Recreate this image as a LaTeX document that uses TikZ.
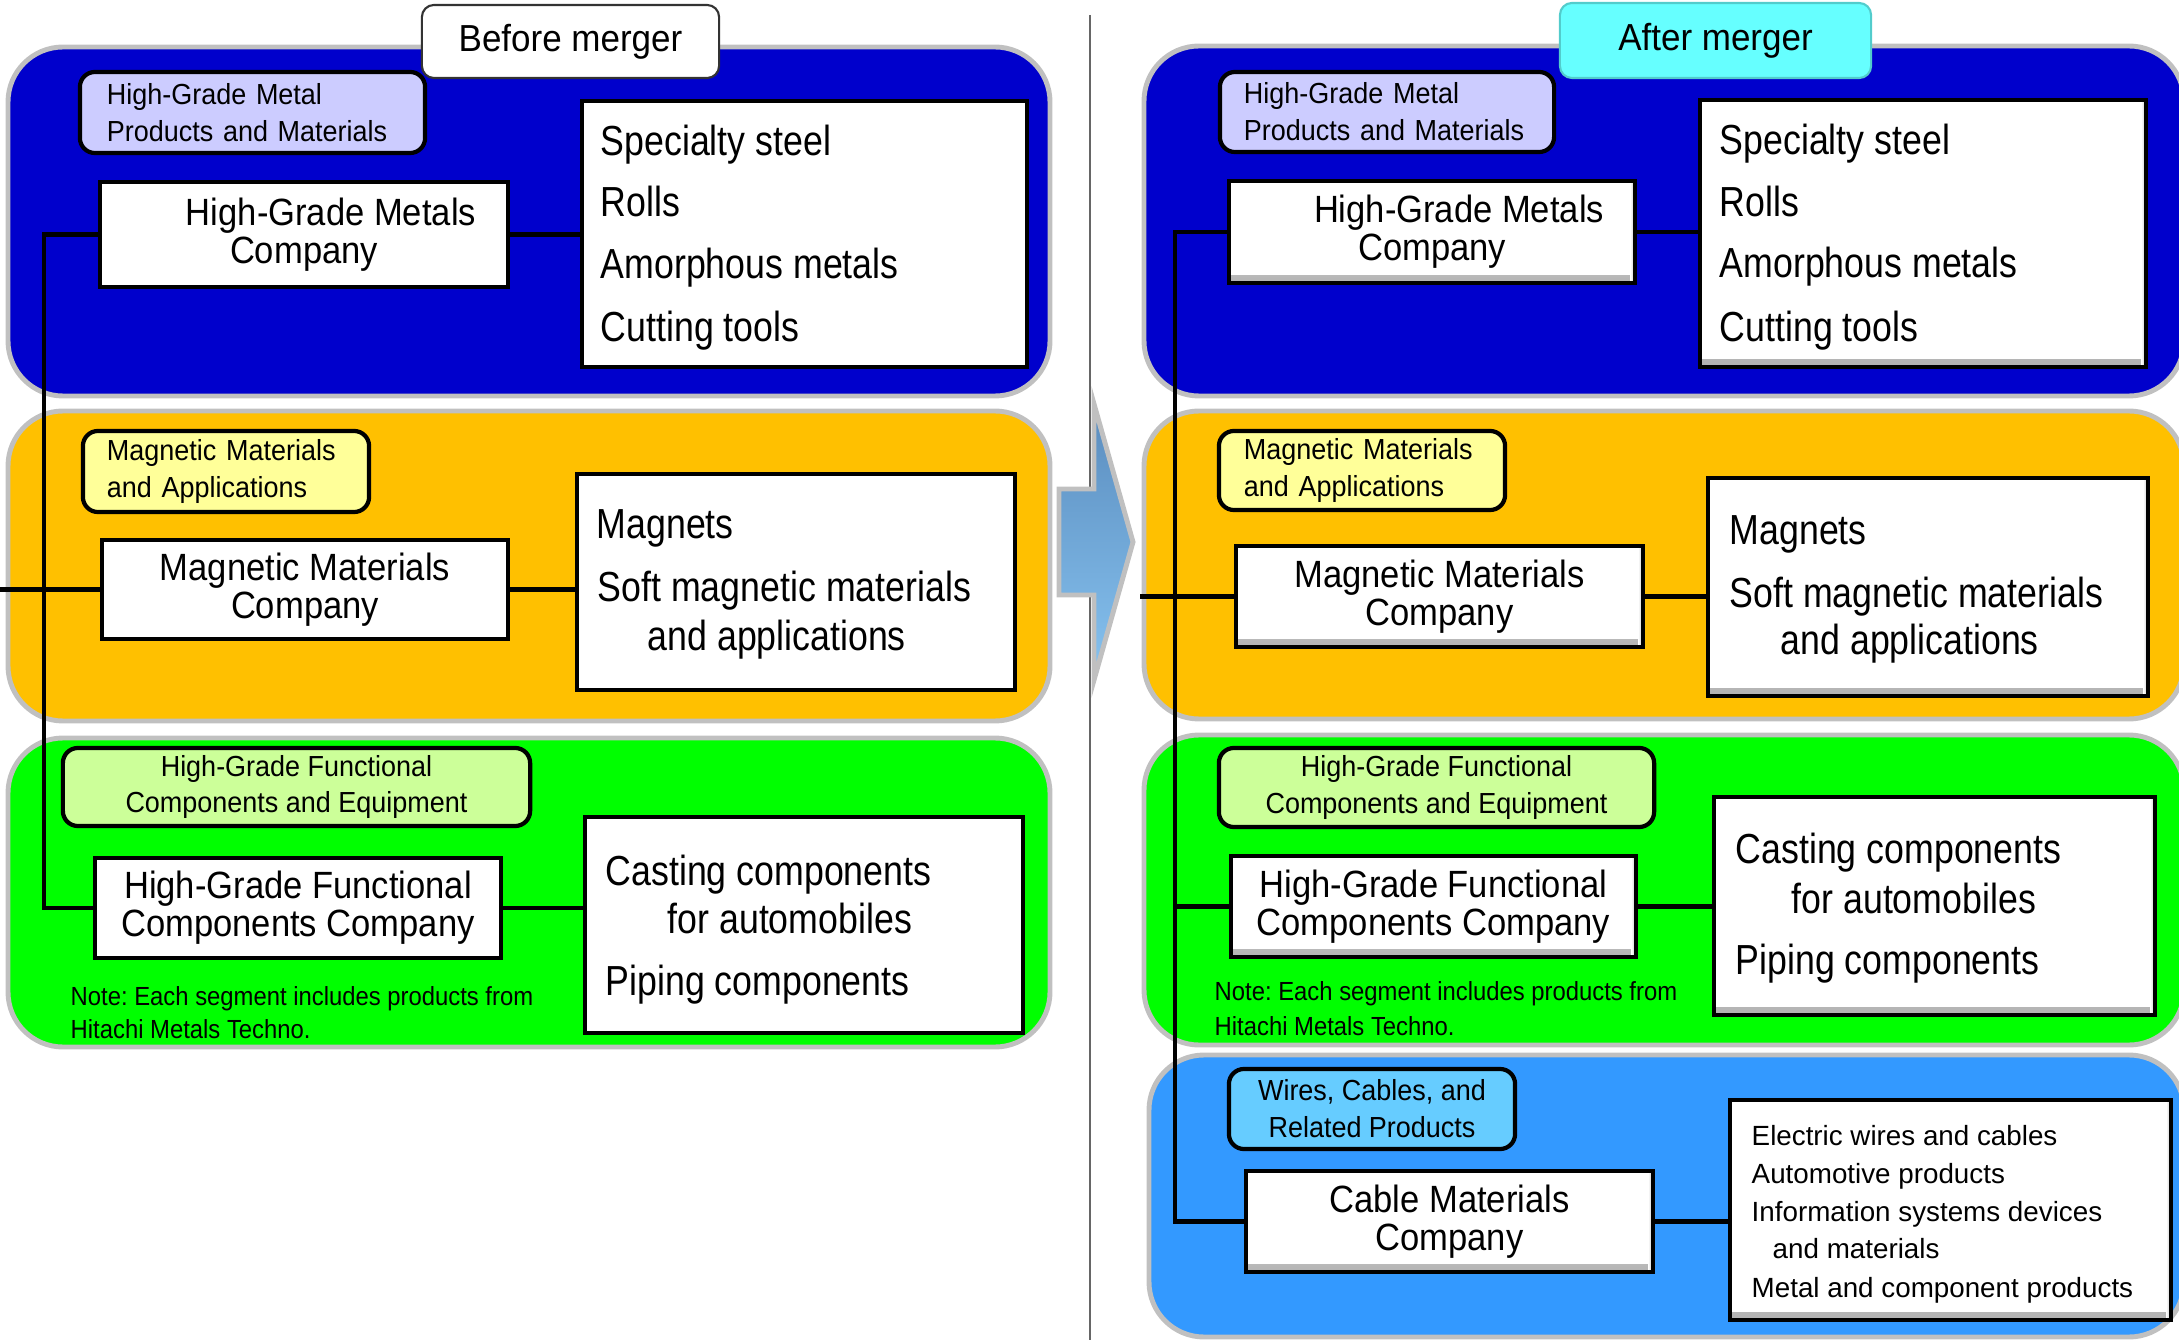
\documentclass[tikz,border=0pt]{standalone}
\usepackage{fontspec}
\setmainfont{Liberation Sans}
\newfontfamily\nf[FakeStretch=0.91]{Liberation Sans}
\newfontfamily\nfp[FakeStretch=0.85]{Liberation Sans}
\newfontfamily\nfc[FakeStretch=0.93]{Liberation Sans}
\newfontfamily\nfw{Liberation Sans}
\frenchspacing
\definecolor{pgray}{HTML}{C0C0C0}
\definecolor{pblue}{HTML}{0000CC}
\definecolor{porange}{HTML}{FFC000}
\definecolor{pgreen}{HTML}{00FF00}
\definecolor{plblue}{HTML}{3399FF}
\definecolor{clav}{HTML}{CCCCFF}
\definecolor{cyel}{HTML}{FFFF99}
\definecolor{cgrn}{HTML}{CCFF99}
\definecolor{cblu}{HTML}{66CCFF}
\definecolor{ccyan}{HTML}{66FFFF}
\definecolor{arrtop}{HTML}{5A8CBE}
\definecolor{arrbot}{HTML}{87C3F0}
\begin{document}
\begin{tikzpicture}[x=0.01cm,y=-0.01cm,
  panel/.style={draw=pgray,line width=1.4pt,rounded corners=0.55cm},
  cat/.style={draw=black,line width=1.2pt,rounded corners=0.15cm,inner sep=0pt,font=\nfc\fontsize{8.25}{10.5}\selectfont},
  comp/.style={draw=black,fill=white,line width=1.3pt,inner sep=0pt,align=center,font=\nf\fontsize{10.8}{10.8}\selectfont},
  prod/.style={draw=black,fill=white,line width=1.3pt,inner sep=0pt},
  ptxt/.style={anchor=base west,inner sep=0pt,font=\nfp\fontsize{11.95}{13}\selectfont},
  pstxt/.style={anchor=base west,inner sep=0pt,font=\nfw\fontsize{7.9}{9.5}\selectfont},
  notetxt/.style={anchor=base west,inner sep=0pt,font=\nf\fontsize{7.45}{9}\selectfont},
  conn/.style={line width=1.4pt},
  ttl/.style={rounded corners=0.12cm,line width=0.6pt,inner sep=0pt,font=\nfc\fontsize{10.7}{13}\selectfont},
  bevel/.style={path picture={
    \shade[top color=white,bottom color=black!30] ([yshift=0.08cm]path picture bounding box.south west) rectangle (path picture bounding box.south east);
    \shade[left color=white,right color=black!25] ([xshift=-0.05cm]path picture bounding box.north east) rectangle (path picture bounding box.south east);
  }}
]
\useasboundingbox (0,0) rectangle (2179,1340);
\clip (0,0) rectangle (2179,1340);

% divider
\draw[black!60,line width=0.5pt] (1090,15) -- (1090,1340);

% panels left
\draw[panel,fill=pblue] (8,47) rectangle (1050,396);
\draw[panel,fill=porange] (8,411) rectangle (1050,721);
\draw[panel,fill=pgreen] (8,738) rectangle (1050,1047);
% panels right
\draw[panel,fill=pblue] (1144,46) rectangle (2184,396);
\draw[panel,fill=porange] (1144,411) rectangle (2184,719);
\draw[panel,fill=pgreen] (1144,735) rectangle (2184,1045);
\draw[panel,fill=plblue] (1149,1055) rectangle (2184,1337);

% arrow
\draw[pgray,line width=1.4pt,top color=arrtop,bottom color=arrbot]
  (1059,489) -- (1094,489) -- (1094,404) -- (1133,542) -- (1094,680) -- (1094,595) -- (1059,595) -- cycle;

% titles
\node[ttl,draw=black!80,fill=white,minimum width=2.97cm,minimum height=0.73cm] (tb) at (570.5,41.5) {Before merger};
\node[ttl,draw=ccyan!80!black,fill=ccyan,minimum width=3.11cm,minimum height=0.75cm] (ta) at (1715.5,40.5) {After merger};

% coordinates for trunks
\coordinate (trL) at (44,0);
\coordinate (inL) at (0,0);
\coordinate (trR) at (1175,0);
\coordinate (inR) at (1140,0);

% ---------- LEFT boxes ----------
\node[cat,fill=clav,minimum width=3.45cm,minimum height=0.81cm,text width=2.91cm,align=left] (kL1) at (252.5,112.5) {High-Grade Metal\\Products and Materials};
\node[cat,fill=cyel,minimum width=2.86cm,minimum height=0.81cm,text width=2.38cm,align=left] (kL2) at (226,471.5) {Magnetic Materials\\and Applications};
\node[cat,fill=cgrn,minimum width=4.67cm,minimum height=0.78cm,align=center] (kL3) at (296.5,787) {High-Grade Functional\\Components and Equipment};

\node[comp,minimum width=4.08cm,minimum height=1.05cm] (cL1) at (304,234.5) {\hspace*{0.54cm}High-Grade Metals\\Company};
\node[comp,minimum width=4.06cm,minimum height=0.99cm] (cL2) at (305,589.5) {Magnetic Materials\\Company};
\node[comp,minimum width=4.06cm,minimum height=1.00cm] (cL3) at (298,908) {High-Grade Functional\\Components Company};

\node[prod,minimum width=4.45cm,minimum height=2.66cm] (pL1) at (804.5,234) {};
\node[prod,minimum width=4.38cm,minimum height=2.16cm] (pL2) at (796,582) {};
\node[prod,minimum width=4.38cm,minimum height=2.16cm] (pL3) at (804,925) {};

\node[ptxt] (tL1a) at (600,156) {Specialty steel};
\node[ptxt] (tL1b) at (600,217) {Rolls};
\node[ptxt] (tL1c) at (600,279) {Amorphous metals};
\node[ptxt] (tL1d) at (600,342) {Cutting tools};
\node[ptxt] (tL2a) at (596,539) {Magnets};
\node[ptxt] (tL2b) at (597,602) {Soft magnetic materials};
\node[ptxt] (tL2c) at (647,651) {and applications};
\node[ptxt] (tL3a) at (605,885) {Casting components};
\node[ptxt] (tL3b) at (667,933) {for automobiles};
\node[ptxt] (tL3c) at (605,995) {Piping components};

\node[notetxt] (nL1) at (70,1005) {Note: Each segment includes products from};
\node[notetxt] (nL2) at (70,1038) {Hitachi Metals Techno.};

% ---------- RIGHT boxes ----------
\node[cat,fill=clav,minimum width=3.34cm,minimum height=0.80cm,text width=2.86cm,align=left] (kR1) at (1387,112) {High-Grade Metal\\Products and Materials};
\node[cat,fill=cyel,minimum width=2.86cm,minimum height=0.79cm,text width=2.36cm,align=left] (kR2) at (1362,470.5) {Magnetic Materials\\and Applications};
\node[cat,fill=cgrn,minimum width=4.35cm,minimum height=0.79cm,align=center] (kR3) at (1436.5,787.5) {High-Grade Functional\\Components and Equipment};
\node[cat,fill=cblu,minimum width=2.86cm,minimum height=0.80cm,align=center] (kR4) at (1372,1109) {Wires, Cables, and\\Related Products};

% connectors (drawn before boxes so boxes cover the ends)
\draw[conn] (cL1.west) -- (cL1.west -| trL) -- (cL3.west -| trL) -- (cL3.west);
\draw[conn] (cL2.west -| inL) -- (cL2.west);
\draw[conn] (cL1.east) -- (cL1.east -| pL1.west);
\draw[conn] (cL2.east) -- (cL2.east -| pL2.west);
\draw[conn] (cL3.east) -- (cL3.east -| pL3.west);

\node[comp,bevel,minimum width=4.06cm,minimum height=1.02cm] (cR1) at (1432,232) {\hspace*{0.54cm}High-Grade Metals\\Company};
\node[comp,bevel,minimum width=4.07cm,minimum height=1.01cm] (cR2) at (1439.5,596.5) {Magnetic Materials\\Company};
\node[comp,bevel,minimum width=4.05cm,minimum height=1.01cm] (cR3) at (1433.5,906.5) {High-Grade Functional\\Components Company};
\node[comp,bevel,minimum width=4.07cm,minimum height=1.01cm] (cR4) at (1449.5,1221.5) {Cable Materials\\Company};

\node[prod,bevel,minimum width=4.46cm,minimum height=2.67cm] (pR1) at (1923,233.5) {};
\node[prod,bevel,minimum width=4.40cm,minimum height=2.18cm] (pR2) at (1928,587) {};
\node[prod,bevel,minimum width=4.41cm,minimum height=2.18cm] (pR3) at (1934.5,906) {};
\node[prod,bevel,minimum width=4.41cm,minimum height=2.20cm] (pR4) at (1950.5,1210) {};

\draw[conn] (cR1.west) -- (cR1.west -| trR) -- (cR4.west -| trR) -- (cR4.west);
\draw[conn] (cR3.west -| trR) -- (cR3.west);
\draw[conn] (cR2.west -| inR) -- (cR2.west);
\draw[conn] (cR1.east) -- (cR1.east -| pR1.west);
\draw[conn] (cR2.east) -- (cR2.east -| pR2.west);
\draw[conn] (cR3.east) -- (cR3.east -| pR3.west);
\draw[conn] (cR4.east) -- (cR4.east -| pR4.west);

\node[ptxt] (tR1a) at (1719,155) {Specialty steel};
\node[ptxt] (tR1b) at (1719,217) {Rolls};
\node[ptxt] (tR1c) at (1719,278) {Amorphous metals};
\node[ptxt] (tR1d) at (1719,342) {Cutting tools};
\node[ptxt] (tR2a) at (1729,545) {Magnets};
\node[ptxt] (tR2b) at (1729,608) {Soft magnetic materials};
\node[ptxt] (tR2c) at (1780,655) {and applications};
\node[ptxt] (tR3a) at (1735,863) {Casting components};
\node[ptxt] (tR3b) at (1791,913) {for automobiles};
\node[ptxt] (tR3c) at (1735,974) {Piping components};
\node[pstxt] (tR4a) at (1751,1145) {Electric wires and cables};
\node[pstxt] (tR4b) at (1751,1183) {Automotive products};
\node[pstxt] (tR4c) at (1751,1221) {Information systems devices};
\node[pstxt] (tR4d) at (1772,1258) {and materials};
\node[pstxt] (tR4e) at (1751,1297) {Metal and component products};

\node[notetxt] (nR1) at (1214,1000) {Note: Each segment includes products from};
\node[notetxt] (nR2) at (1214,1035) {Hitachi Metals Techno.};
\end{tikzpicture}
\end{document}
